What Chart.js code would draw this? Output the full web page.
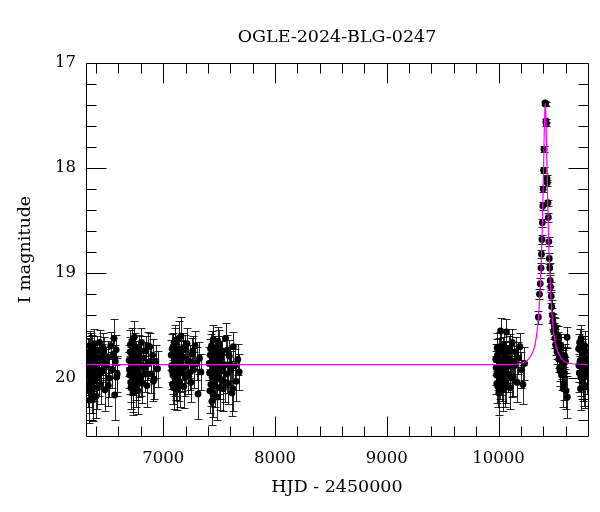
<!DOCTYPE html>
<html>
<head>
<meta charset="utf-8">
<script src="https://cdn.jsdelivr.net/npm/chart.js@4.4.1/dist/chart.umd.min.js"></script>
<style>
  html, body { margin: 0; padding: 0; background: #fff; }
  canvas { display: block; }
</style>
</head>
<body>
<canvas id="lc" width="600" height="512"></canvas>
<script>
// tick labels
const xTicks = [7000, 8000, 9000, 10000];
const yTicks = [17, 18, 19, 20];

// OGLE I-band photometry, one set of arrays per season
const t2013 = [6322, 6328, 6334, 6339, 6345, 6350, 6356, 6362, 6369, 6375, 6381, 6388, 6394, 6401, 6408, 6416, 6423, 6431, 6440, 6449, 6458, 6468, 6479, 6491, 6504, 6517, 6531, 6546, 6560, 6566, 6572, 6580, 6589,
  6325, 6331, 6337, 6342, 6347, 6353, 6359, 6365, 6372, 6378, 6385, 6397, 6412, 6427, 6445, 6463, 6486, 6510, 6553, 6584];
const m2013 = [19.91, 20.08, 19.76, 20.21, 19.87, 19.98, 19.70, 20.13, 19.84, 19.95, 20.03, 19.79, 19.90, 20.17, 19.73, 19.86, 19.99, 19.66, 20.06, 19.82, 19.93, 19.75, 20.11, 19.88, 19.80, 20.00, 19.69, 19.92, 19.62, 20.16, 19.84, 19.73, 19.96,
  19.78, 19.95, 20.12, 19.69, 19.84, 20.04, 19.91, 19.74, 20.19, 19.88, 19.67, 19.97, 20.09, 19.81, 19.93, 19.71, 19.86, 20.07, 19.77, 19.99];
const e2013 = [0.16, 0.19, 0.14, 0.22, 0.15, 0.18, 0.13, 0.20, 0.16, 0.17, 0.19, 0.14, 0.15, 0.21, 0.13, 0.16, 0.18, 0.12, 0.19, 0.15, 0.17, 0.14, 0.20, 0.16, 0.15, 0.18, 0.13, 0.17, 0.18, 0.24, 0.16, 0.14, 0.17,
  0.15, 0.18, 0.21, 0.14, 0.16, 0.19, 0.17, 0.15, 0.22, 0.16, 0.14, 0.18, 0.20, 0.15, 0.17, 0.14, 0.16, 0.19, 0.15, 0.18];

const t2014 = [6695, 6701, 6707, 6712, 6718, 6724, 6730, 6736, 6742, 6749, 6755, 6761, 6768, 6775, 6782, 6790, 6798, 6806, 6815, 6824, 6834, 6845, 6856, 6868, 6880, 6893, 6906, 6920, 6935, 6950,
  6698, 6704, 6710, 6715, 6721, 6727, 6733, 6739, 6746, 6752, 6758, 6765, 6772, 6786, 6802, 6820, 6840, 6862, 6887, 6913];
const m2014 = [19.83, 19.97, 19.68, 20.09, 19.88, 19.76, 20.14, 19.92, 19.61, 19.85, 20.02, 19.79, 19.94, 20.12, 19.72, 19.87, 19.99, 19.66, 20.05, 19.81, 19.90, 19.74, 20.07, 19.86, 19.70, 19.96, 19.78, 20.01, 19.84, 19.91,
  19.92, 19.75, 20.04, 19.86, 19.65, 19.98, 20.11, 19.80, 19.89, 19.71, 20.07, 19.93, 19.82, 20.00, 19.74, 19.88, 19.96, 19.69, 19.84, 20.03];
const e2014 = [0.15, 0.18, 0.14, 0.20, 0.16, 0.13, 0.21, 0.17, 0.15, 0.16, 0.19, 0.14, 0.17, 0.22, 0.13, 0.16, 0.18, 0.14, 0.19, 0.15, 0.16, 0.14, 0.20, 0.16, 0.13, 0.18, 0.15, 0.19, 0.16, 0.17,
  0.17, 0.14, 0.19, 0.16, 0.13, 0.18, 0.21, 0.15, 0.16, 0.14, 0.20, 0.17, 0.15, 0.18, 0.14, 0.16, 0.17, 0.13, 0.16, 0.19];

const t2015 = [7072, 7078, 7084, 7090, 7096, 7102, 7108, 7115, 7122, 7129, 7136, 7143, 7151, 7159, 7167, 7176, 7185, 7194, 7204, 7214, 7225, 7236, 7248, 7260, 7273, 7286, 7299, 7312, 7325, 7338,
  7075, 7081, 7087, 7093, 7099, 7105, 7112, 7118, 7125, 7132, 7140, 7147, 7155, 7163, 7172, 7181, 7199, 7219, 7242, 7266];
const m2015 = [19.78, 19.93, 20.06, 19.70, 19.87, 19.99, 19.64, 19.82, 20.10, 19.91, 19.75, 20.03, 19.86, 19.60, 19.95, 19.80, 20.08, 19.73, 19.89, 19.67, 19.97, 19.84, 20.04, 19.77, 19.92, 19.69, 19.86, 20.15, 19.81, 19.94,
  19.88, 19.72, 19.97, 20.09, 19.81, 19.66, 19.93, 20.02, 19.76, 19.85, 19.62, 19.95, 20.07, 19.79, 19.90, 19.71, 19.99, 19.83, 19.94, 19.74];
const e2015 = [0.14, 0.17, 0.19, 0.13, 0.16, 0.18, 0.15, 0.15, 0.20, 0.17, 0.14, 0.19, 0.16, 0.18, 0.17, 0.15, 0.20, 0.14, 0.16, 0.15, 0.18, 0.16, 0.19, 0.15, 0.17, 0.14, 0.16, 0.24, 0.15, 0.17,
  0.16, 0.14, 0.18, 0.20, 0.15, 0.14, 0.17, 0.19, 0.15, 0.16, 0.16, 0.18, 0.20, 0.15, 0.16, 0.14, 0.18, 0.15, 0.17, 0.14];

const t2016 = [7412, 7418, 7424, 7430, 7436, 7442, 7449, 7456, 7463, 7470, 7477, 7485, 7493, 7501, 7510, 7519, 7528, 7538, 7548, 7558, 7569, 7580, 7592, 7604, 7616, 7628, 7641, 7654, 7667, 7680,
  7415, 7421, 7427, 7433, 7439, 7446, 7452, 7459, 7466, 7473, 7481, 7489, 7497, 7505, 7514, 7533, 7553, 7575, 7598, 7622];
const m2016 = [19.86, 20.12, 19.72, 19.95, 20.22, 19.80, 19.63, 19.98, 20.07, 19.76, 19.90, 20.18, 19.84, 19.68, 20.01, 19.93, 19.74, 20.10, 19.87, 19.62, 19.96, 20.05, 19.79, 19.91, 20.14, 19.70, 19.88, 20.03, 19.82, 19.94,
  19.95, 19.78, 20.06, 19.69, 19.88, 20.15, 19.83, 19.92, 19.74, 20.01, 19.86, 19.65, 19.97, 20.09, 19.80, 19.91, 20.04, 19.73, 19.87, 20.10];
const e2016 = [0.16, 0.21, 0.14, 0.18, 0.23, 0.15, 0.14, 0.18, 0.20, 0.14, 0.16, 0.22, 0.15, 0.14, 0.19, 0.17, 0.14, 0.21, 0.16, 0.15, 0.18, 0.20, 0.15, 0.17, 0.22, 0.14, 0.16, 0.19, 0.15, 0.17,
  0.17, 0.15, 0.20, 0.14, 0.16, 0.22, 0.15, 0.17, 0.14, 0.19, 0.16, 0.14, 0.18, 0.21, 0.15, 0.17, 0.19, 0.14, 0.16, 0.21];

const t2023 = [9975, 9981, 9987, 9993, 9999, 10005, 10011, 10018, 10024, 10031, 10038, 10045, 10052, 10060, 10068, 10071, 10077, 10085, 10094, 10103, 10112, 10122, 10132, 10143, 10154, 10166, 10178, 10191, 10204, 10218, 10232,
  9978, 9984, 9990, 9996, 10002, 10008, 10014, 10021, 10027, 10034, 10041, 10048, 10056, 10064, 10081, 10098, 10117, 10138];
const m2023 = [19.82, 19.97, 19.71, 20.08, 19.89, 19.76, 20.02, 19.55, 19.93, 19.85, 20.11, 19.68, 19.90, 19.79, 20.05, 19.56, 19.87, 19.96, 19.74, 20.09, 19.83, 19.66, 19.99, 19.88, 19.75, 20.04, 19.81, 19.70, 19.92, 20.06, 19.86,
  19.90, 20.05, 19.78, 19.94, 20.14, 19.84, 19.70, 19.98, 19.87, 20.03, 19.75, 19.92, 20.08, 19.81, 19.89, 19.72, 20.00, 19.85];
const e2023 = [0.15, 0.18, 0.14, 0.19, 0.16, 0.14, 0.18, 0.12, 0.17, 0.15, 0.20, 0.13, 0.16, 0.14, 0.19, 0.12, 0.15, 0.17, 0.14, 0.20, 0.15, 0.13, 0.18, 0.16, 0.14, 0.19, 0.15, 0.13, 0.17, 0.19, 0.16,
  0.16, 0.19, 0.15, 0.17, 0.21, 0.15, 0.14, 0.18, 0.16, 0.19, 0.14, 0.17, 0.19, 0.15, 0.16, 0.14, 0.18, 0.16];

const t2024 = [10356, 10366, 10373, 10380, 10384, 10388, 10392, 10396, 10399, 10403, 10406, 10416, 10420, 10424, 10427, 10434, 10436, 10442, 10445, 10450, 10454, 10458, 10462, 10466, 10471, 10476, 10481, 10486, 10492, 10498, 10504, 10510, 10516, 10523, 10530, 10538, 10546, 10554, 10563, 10573, 10583, 10594, 10604, 10613, 10616,
  10508, 10520, 10534, 10542, 10550, 10558, 10568, 10578, 10590, 10600];
const m2024 = [19.42, 19.20, 19.10, 18.95, 18.82, 18.68, 18.52, 18.36, 18.20, 18.02, 17.82, 17.38, 17.39, 17.55, 17.58, 18.10, 18.14, 18.33, 18.47, 18.70, 18.86, 18.95, 19.07, 19.13, 19.22, 19.32, 19.40, 19.46, 19.55, 19.50, 19.62, 19.68, 19.58, 19.75, 19.66, 19.82, 19.90, 19.72, 19.97, 19.86, 20.05, 19.79, 20.12, 19.61, 20.18,
  19.52, 19.71, 19.60, 19.78, 19.93, 19.69, 19.88, 20.10, 19.95, 19.84];
const e2024 = [0.06, 0.05, 0.05, 0.05, 0.04, 0.04, 0.04, 0.04, 0.03, 0.03, 0.03, 0.02, 0.02, 0.02, 0.02, 0.03, 0.03, 0.03, 0.04, 0.04, 0.05, 0.05, 0.05, 0.05, 0.06, 0.06, 0.07, 0.07, 0.08, 0.08, 0.09, 0.10, 0.09, 0.11, 0.10, 0.12, 0.13, 0.11, 0.14, 0.13, 0.16, 0.12, 0.17, 0.10, 0.20,
  0.09, 0.11, 0.10, 0.12, 0.14, 0.11, 0.13, 0.17, 0.15, 0.14];

const t2025 = [10716, 10722, 10728, 10733, 10739, 10745, 10751, 10757, 10763, 10770, 10777, 10785, 10793,
  10719, 10725, 10736, 10748, 10760, 10774, 10789, 10798];
const m2025 = [19.72, 19.95, 19.84, 20.10, 19.62, 19.89, 20.03, 19.78, 19.93, 19.69, 20.08, 19.85, 19.97,
  19.88, 19.66, 19.99, 19.80, 20.06, 19.74, 19.92, 19.83];
const e2025 = [0.14, 0.18, 0.16, 0.20, 0.13, 0.16, 0.19, 0.15, 0.17, 0.14, 0.20, 0.16, 0.18,
  0.16, 0.13, 0.18, 0.15, 0.20, 0.14, 0.17, 0.16];

// model light curve (magenta)
const modelT = [6310, 9900, 10100, 10198, 10258, 10298, 10328, 10348, 10363, 10373, 10383, 10391, 10398, 10403, 10408, 10413, 10418, 10423, 10428, 10433, 10438, 10445, 10453, 10463, 10473, 10488, 10508, 10538, 10578, 10638, 10800];
const modelMag = [19.87, 19.87, 19.87, 19.86, 19.83, 19.77, 19.67, 19.52, 19.32, 19.12, 18.85, 18.55, 18.25, 17.98, 17.70, 17.48, 17.38, 17.48, 17.70, 17.98, 18.25, 18.55, 18.85, 19.12, 19.32, 19.52, 19.67, 19.77, 19.83, 19.86, 19.87];

const xMinor = [6400, 6600, 6800, 7200, 7400, 7600, 7800, 8200, 8400, 8600, 8800, 9200, 9400, 9600, 9800, 10200, 10400, 10600];
const yMinor = [17.2, 17.4, 17.6, 17.8, 18.2, 18.4, 18.6, 18.8, 19.2, 19.4, 19.6, 19.8, 20.2, 20.4];

const FONT = "'DejaVu Serif', serif";

const seasons = [
  [t2013, m2013, e2013], [t2014, m2014, e2014], [t2015, m2015, e2015],
  [t2016, m2016, e2016], [t2023, m2023, e2023], [t2024, m2024, e2024],
  [t2025, m2025, e2025]
];
const points = [];
for (const [t, m, e] of seasons) {
  t.forEach((v, i) => points.push({ x: v, y: m[i], err: e[i] }));
}

// error bars under the points
const errorBars = {
  id: "errorBars",
  beforeDatasetsDraw(chart) {
    const { ctx, chartArea: a, scales: { x, y } } = chart;
    ctx.save();
    ctx.beginPath();
    ctx.rect(a.left, a.top, a.width, a.height);
    ctx.clip();
    ctx.strokeStyle = "rgba(0,0,0,0.85)";
    ctx.lineWidth = 1;
    ctx.beginPath();
    for (const p of points) {
      const px = Math.round(x.getPixelForValue(p.x)) + 0.5;
      const y1 = Math.round(y.getPixelForValue(p.y - p.err)) + 0.5;
      const y2 = Math.round(y.getPixelForValue(p.y + p.err)) + 0.5;
      ctx.moveTo(px, y1); ctx.lineTo(px, y2);
      ctx.moveTo(px - 4, y1); ctx.lineTo(px + 4, y1);
      ctx.moveTo(px - 4, y2); ctx.lineTo(px + 4, y2);
    }
    ctx.stroke();
    ctx.restore();
  }
};

// box with inward ticks on all four sides
const frame = {
  id: "frame",
  afterDraw(chart) {
    const { ctx, chartArea: a, scales: { x, y } } = chart;
    const L = Math.round(a.left) + 0.5, R = Math.round(a.right) + 0.5;
    const T = Math.round(a.top) + 0.5, B = Math.round(a.bottom) + 0.5;
    const xTick = (v, len) => {
      const px = Math.round(x.getPixelForValue(v)) + 0.5;
      ctx.moveTo(px, B); ctx.lineTo(px, B - len);
      ctx.moveTo(px, T); ctx.lineTo(px, T + len);
    };
    const yTick = (v, len) => {
      const py = Math.round(y.getPixelForValue(v)) + 0.5;
      ctx.moveTo(L, py); ctx.lineTo(L + len, py);
      ctx.moveTo(R, py); ctx.lineTo(R - len, py);
    };
    ctx.save();
    ctx.lineWidth = 1;
    ctx.strokeStyle = "#000";
    ctx.beginPath();
    xTicks.forEach(v => xTick(v, 20));
    xMinor.forEach(v => xTick(v, 10));
    yTicks.forEach(v => yTick(v, 20));
    yMinor.forEach(v => yTick(v, 10));
    ctx.moveTo(L, T); ctx.lineTo(R, T); ctx.lineTo(R, B); ctx.lineTo(L, B); ctx.closePath();
    ctx.stroke();
    ctx.restore();
  }
};

new Chart(document.getElementById("lc"), {
  data: {
    datasets: [
      {
        type: "line",
        data: modelT.map((t, i) => ({ x: t, y: modelMag[i] })),
        borderColor: "#ff00ff",
        borderWidth: 1.2,
        pointRadius: 0,
        cubicInterpolationMode: "monotone",
        fill: false
      },
      {
        type: "scatter",
        data: points,
        pointRadius: 3.4,
        backgroundColor: "#000",
        borderWidth: 0
      }
    ]
  },
  options: {
    responsive: false,
    animation: false,
    devicePixelRatio: 1,
    layout: { padding: { top: 0, right: 12, bottom: 0, left: 0 } },
    plugins: {
      legend: { display: false },
      tooltip: { enabled: false },
      title: {
        display: true,
        text: "OGLE-2024-BLG-0247",
        fullSize: false,
        color: "#000",
        font: { family: FONT, size: 17.5, weight: "normal" },
        padding: { top: 27, bottom: 15 }
      }
    },
    scales: {
      x: {
        type: "linear",
        min: 6310,
        max: 10800,
        grid: { display: false, drawTicks: false },
        border: { display: false },
        afterBuildTicks: s => { s.ticks = xTicks.map(v => ({ value: v })); },
        afterFit: s => { s.height = 76; },
        ticks: { color: "#000", font: { family: FONT, size: 16.5 }, padding: 13, maxRotation: 0, callback: v => String(v) },
        title: { display: true, text: "HJD - 2450000", color: "#000", font: { family: FONT, size: 17.5 }, padding: { top: 0, bottom: 14 } }
      },
      y: {
        type: "linear",
        reverse: true,
        min: 17,
        max: 20.55,
        grid: { display: false, drawTicks: false },
        border: { display: false },
        afterBuildTicks: s => { s.ticks = yTicks.map(v => ({ value: v })); },
        afterFit: s => { s.width = 86; },
        ticks: { color: "#000", font: { family: FONT, size: 16.5 }, padding: 10, callback: v => String(v) },
        title: { display: true, text: "I magnitude", color: "#000", font: { family: FONT, size: 17.5 }, padding: { top: 15, bottom: 0 } }
      }
    }
  },
  plugins: [errorBars, frame]
});
</script>
</body>
</html>
